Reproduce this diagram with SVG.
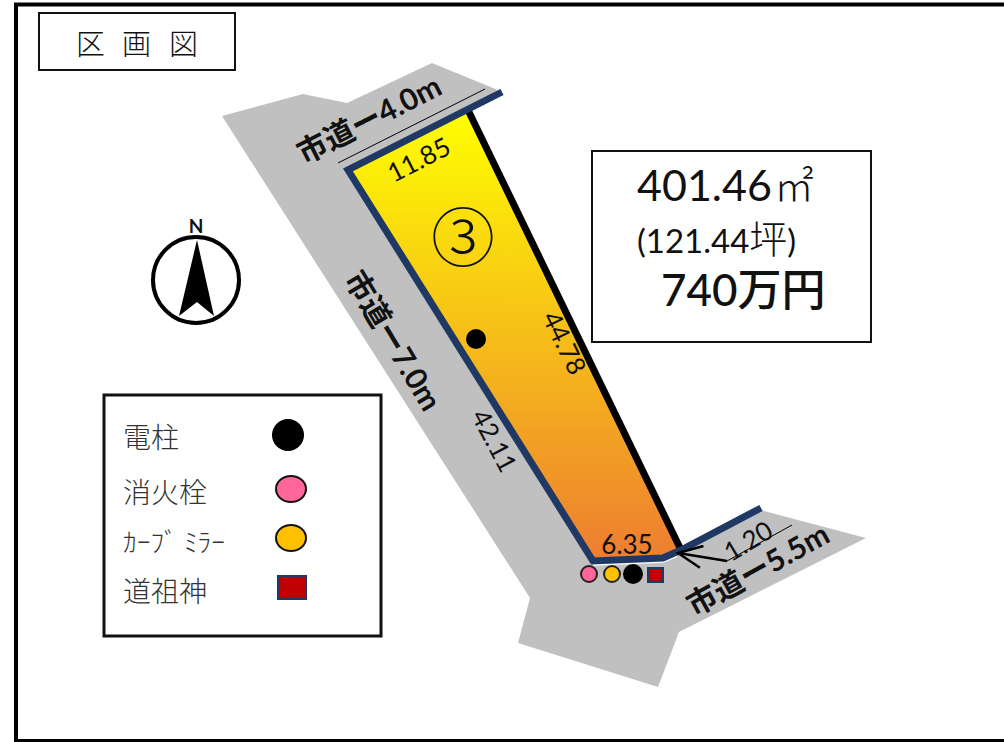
<svg xmlns="http://www.w3.org/2000/svg" width="1004" height="742" viewBox="0 0 1004 742">
<style>
text{font-family:"Lato","Noto Sans CJK JP",sans-serif;fill:#111}
.j{font-family:"Noto Sans CJK JP",sans-serif}
.road{font-weight:700;font-size:30px}
.dim{font-size:26px}
.leg{font-size:28px;fill:#333;font-weight:300}
.box{fill:#fff;stroke:#111;stroke-width:2}
.nav{fill:none;stroke:#1f3864;stroke-width:7}
</style>
<defs>
<linearGradient id="g" x1="0" y1="0" x2="0" y2="1"><stop offset="0" stop-color="#ffff00"/><stop offset="1" stop-color="#ed7d31"/></linearGradient>
<marker id="a" markerUnits="userSpaceOnUse" markerWidth="28" markerHeight="24" refX="26" refY="12" orient="auto"><path d="M2 1L26 12L2 23" fill="none" stroke="#000" stroke-width="2.4"/></marker>
</defs>
<rect width="1004" height="742" fill="#fff"/>
<path id="frame" d="M1004 4.500H16V741H1004" fill="none" stroke="#000" stroke-width="4"/>
<g id="title"><rect x="39" y="13" width="196" height="57" class="box"/>
<text y="55" class="j" font-size="29" font-weight="300"><tspan x="76">区</tspan><tspan x="122">画</tspan><tspan x="169">図</tspan></text></g>
<g id="road"><path d="M222 116L303 94L347 103L432 63L498 90L468 110L681 550L760 510L866 538L679 632L658 687L518 643L530 598Z" fill="#c0c0c0"/></g>
<g id="lot">
<path d="M348 170L468 110L681 550L663 558L593 561Z" fill="url(#g)"/>
<path d="M593 564.500L663 561.500L677 556" fill="none" stroke="#fff" stroke-width="2.500"/>
<path d="M468 110L681 550" fill="none" stroke="#000" stroke-width="7"/>
<path d="M502 92L348 170L593 561L663 558L681 550L761 508" class="nav"/>
<text x="463" y="261" class="j" font-size="64" text-anchor="middle" font-weight="300">③</text>
<circle cx="476" cy="339" r="10" fill="#000"/>
<text class="dim" text-anchor="middle" transform="translate(423 168) rotate(-27)">11.85</text>
<text class="dim" text-anchor="middle" transform="translate(556 347) rotate(64)" font-size="27">44.78</text>
<text class="dim" text-anchor="middle" transform="translate(486 445) rotate(62)">42.11</text>
<text class="dim" x="627" y="554" text-anchor="middle">6.35</text>
<text class="dim" text-anchor="middle" transform="translate(753 549) rotate(-31)">1.20</text>
</g>
<g id="connectors" fill="none" stroke="#000">
<path d="M338 163L485 89" stroke-width="1"/>
<path d="M727 561L792 525" stroke-width="1"/>
<path d="M727 561L678 553" stroke-width="2.400" marker-end="url(#a)"/>
</g>
<g id="road-labels">
<text class="road" text-anchor="middle" transform="translate(374 129) rotate(-27)">市道ー4.0m</text>
<text class="road" text-anchor="middle" transform="translate(384 346) rotate(59)">市道ー7.0m</text>
<text class="road" text-anchor="middle" transform="translate(763 579) rotate(-29)">市道ー5.5m</text>
</g>
<g id="markers">
<circle cx="589" cy="574" r="8" fill="#ff6699" stroke="#222" stroke-width="2"/>
<circle cx="612" cy="574" r="8" fill="#ffc000" stroke="#222" stroke-width="2"/>
<circle cx="633" cy="574" r="10" fill="#000"/>
<rect x="648" y="568" width="15" height="14" fill="#c00000" stroke="#1f3864" stroke-width="2"/>
</g>
<g id="info"><rect x="592" y="151" width="279" height="191" class="box"/>
<text x="637" y="201" font-size="43">401.46</text><text x="774" y="201" class="j" font-size="40" font-weight="300">㎡</text>
<text x="637" y="253" font-size="33">(121.44<tspan class="j" font-weight="300" font-size="38">坪</tspan>)</text>
<text x="661" y="306" font-size="44" font-weight="500">740<tspan class="j" font-weight="500">万円</tspan></text>
</g>
<g id="north">
<text x="196" y="233" font-size="19" font-weight="700" text-anchor="middle">N</text>
<circle cx="196" cy="280" r="43" fill="#fff" stroke="#000" stroke-width="4"/>
<path d="M197 240L214 316L197 302L179 316Z" fill="#000"/>
</g>
<g id="legend"><rect x="104" y="395" width="277" height="241" fill="#fff" stroke="#111" stroke-width="3"/>
<text x="123" y="448" class="j leg">電柱</text>
<text x="123" y="503" class="j leg">消火栓</text>
<text x="123" y="552" class="j leg" style="font-size:26px" textLength="102" lengthAdjust="spacingAndGlyphs">ｶｰﾌﾞ ﾐﾗｰ</text>
<text x="123" y="602" class="j leg">道祖神</text>
<circle cx="288" cy="435" r="16" fill="#000"/>
<ellipse cx="291" cy="489" rx="15" ry="13" fill="#ff6699" stroke="#111" stroke-width="2"/>
<ellipse cx="291" cy="538" rx="15" ry="13" fill="#ffc000" stroke="#111" stroke-width="2"/>
<rect x="278" y="576" width="28" height="23" fill="#c00000" stroke="#1f3864" stroke-width="2"/>
</g>
</svg>
